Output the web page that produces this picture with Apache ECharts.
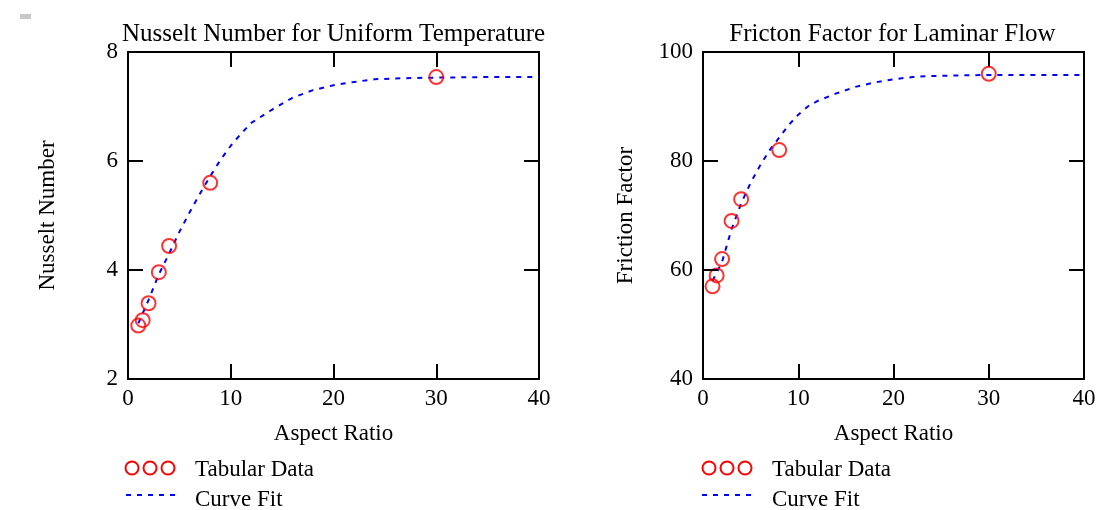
<!DOCTYPE html>
<html>
<head>
<meta charset="utf-8">
<script src="https://cdn.jsdelivr.net/npm/echarts@6/dist/echarts.min.js"></script>
<style>
html,body{margin:0;padding:0;background:#fff;}
#chart{width:1102px;height:510px;}
</style>
</head>
<body>
<div id="chart"></div>
<script>
// ---- Data ----
const aspectRatio = [1, 1.43, 2, 3, 4, 8, 30];
const nusseltData = [2.98, 3.08, 3.39, 3.96, 4.44, 5.60, 7.54];
const frictionData = [57, 59, 62, 69, 73, 82, 96];

const fitX        = [1, 2, 3, 4, 5, 6, 7, 8, 9, 10, 11, 12, 14, 16, 18, 20, 22, 24, 27, 30, 35, 40];
const nusseltFit  = [3.02, 3.45, 3.92, 4.30, 4.70, 5.06, 5.40, 5.72, 6.02, 6.28, 6.50, 6.70, 6.94, 7.16, 7.30, 7.39, 7.45, 7.50, 7.52, 7.53, 7.54, 7.54];
const frictionFit = [58.0, 61.5, 67.5, 72.2, 76.0, 79.2, 82.0, 84.3, 86.6, 88.5, 90.0, 91.0, 92.4, 93.6, 94.4, 95.0, 95.4, 95.6, 95.7, 95.8, 95.8, 95.8];

const titles = ['Nusselt Number for Uniform Temperature', 'Fricton Factor for Laminar Flow'];
const yNames = ['Nusselt Number', 'Friction Factor'];
const xName = 'Aspect Ratio';
const legendNames = ['Tabular Data', 'Curve Fit'];
const xRange = {min: 0, max: 40, interval: 10};
const yRanges = [{min: 2, max: 8, interval: 2}, {min: 40, max: 100, interval: 20}];
const yTickValues = [[2, 4, 6, 8], [40, 60, 80, 100]];

// ---- Chart ----
const FONT = '"Liberation Serif", "Times New Roman", serif';
const chart = echarts.init(document.getElementById('chart'), null, {renderer: 'canvas'});
const grids = [
  {left: 128, top: 52, width: 411, height: 327},
  {left: 703, top: 52, width: 381, height: 327}
];
const TICK_LEN = 15;
const mkLine = () => ({show: true, onZero: false, lineStyle: {color: '#000', width: 2}});
const mkTick = () => ({show: true, inside: true, length: TICK_LEN, lineStyle: {color: '#000', width: 2}});
const mkLabel = (margin) => ({show: true, color: '#000', fontFamily: FONT, fontSize: 23, margin: margin});
const mkName = () => ({color: '#000', fontFamily: FONT, fontSize: 23});

const xAxes = [], yAxes = [];
[0, 1].forEach(i => {
  xAxes.push({type: 'value', gridIndex: i, position: 'bottom',
    min: xRange.min, max: xRange.max, interval: xRange.interval,
    axisLine: mkLine(), axisTick: mkTick(), splitLine: {show: false},
    axisLabel: mkLabel(8),
    name: xName, nameLocation: 'middle', nameGap: 43, nameTextStyle: mkName()});
  xAxes.push({type: 'value', gridIndex: i, position: 'top',
    min: xRange.min, max: xRange.max, interval: xRange.interval,
    axisLine: mkLine(), axisTick: mkTick(), splitLine: {show: false}, axisLabel: {show: false}});
  yAxes.push({type: 'value', gridIndex: i, position: 'left',
    min: yRanges[i].min, max: yRanges[i].max, interval: yRanges[i].interval,
    axisLine: mkLine(), axisTick: mkTick(), splitLine: {show: false},
    axisLabel: mkLabel(10),
    name: yNames[i], nameLocation: 'middle', nameGap: i === 0 ? 69 : 66, nameTextStyle: mkName()});
  yAxes.push({type: 'value', gridIndex: i, position: 'right',
    min: yRanges[i].min, max: yRanges[i].max, interval: yRanges[i].interval,
    axisLine: mkLine(), axisTick: mkTick(), splitLine: {show: false}, axisLabel: {show: false}});
});

const dataSets = [nusseltData, frictionData];
const fitSets = [nusseltFit, frictionFit];
const series = [];
[0, 1].forEach(i => {
  series.push({
    name: legendNames[1], type: 'line', xAxisIndex: i * 2, yAxisIndex: i * 2,
    data: fitX.map((x, k) => [x, fitSets[i][k]]),
    symbol: 'none', smooth: false, silent: true,
    lineStyle: {color: '#0000ff', width: 2, type: [5, 6]}, z: 2
  });
  series.push({
    name: legendNames[0], type: 'scatter', xAxisIndex: i * 2, yAxisIndex: i * 2,
    data: aspectRatio.map((x, k) => [x, dataSets[i][k]]),
    symbol: 'circle', symbolSize: 14,
    itemStyle: {color: 'rgba(0,0,0,0)', borderColor: '#ff0000', borderWidth: 2}, z: 3
  });
  // inside tick marks on the left frame edge, placed through the axis scale
  series.push({
    type: 'custom', xAxisIndex: i * 2, yAxisIndex: i * 2, silent: true, clip: false, z: 6,
    data: yTickValues[i].map(v => [xRange.min, v]),
    renderItem: (params, api) => {
      const p = api.coord([api.value(0), api.value(1)]);
      return {type: 'line', shape: {x1: p[0], y1: p[1], x2: p[0] + TICK_LEN, y2: p[1]},
        style: {stroke: '#000', lineWidth: 2}};
    }
  });
});

// Legend graphics (decorative keys) + titles
const graphic = [
  {type: 'rect', left: 20, top: 14, shape: {width: 11, height: 5}, style: {fill: '#c8c8c8'}}
];
const legendPos = [
  {cx: [132, 150, 168], lx: [126, 175], tx: 195},
  {cx: [709, 727, 745], lx: [702, 751], tx: 772}
];
legendPos.forEach((p, i) => {
  p.cx.forEach(cx => graphic.push({type: 'circle', shape: {cx: cx, cy: 468, r: 6.5},
    style: {fill: 'none', stroke: '#ff0000', lineWidth: 2}}));
  graphic.push({type: 'line', shape: {x1: p.lx[0], y1: 495, x2: p.lx[1], y2: 495},
    style: {stroke: '#0000ff', lineWidth: 2, lineDash: [5, 6]}});
  graphic.push({type: 'text', x: p.tx, y: 470, style: {text: legendNames[0], fill: '#000',
    font: '23px ' + FONT, textVerticalAlign: 'middle'}});
  graphic.push({type: 'text', x: p.tx, y: 500, style: {text: legendNames[1], fill: '#000',
    font: '23px ' + FONT, textVerticalAlign: 'middle'}});
  const g = grids[i];
  graphic.push({type: 'text', x: g.left + g.width / 2 + (i === 0 ? 0 : -1), y: 34, style: {text: titles[i], fill: '#000',
    font: '25px ' + FONT, textAlign: 'center', textVerticalAlign: 'middle'}});
});

chart.setOption({
  backgroundColor: '#fff',
  animation: false,
  grid: grids,
  xAxis: xAxes,
  yAxis: yAxes,
  series: series,
  graphic: graphic
});
</script>
</body>
</html>
